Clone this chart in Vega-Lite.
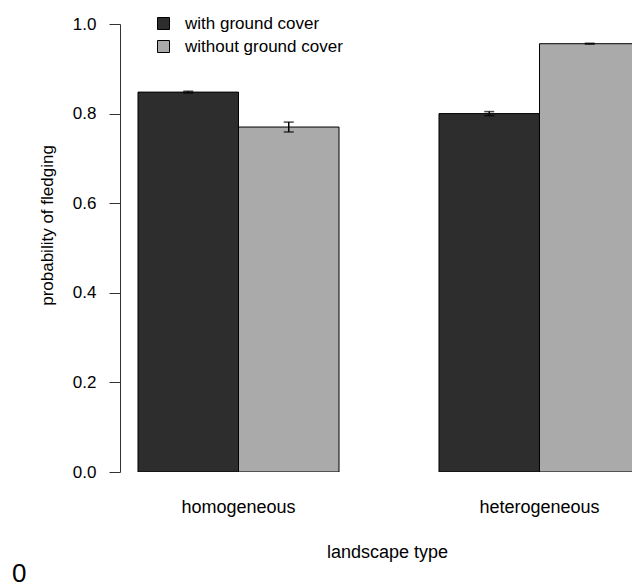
{
  "$schema": "https://vega.github.io/schema/vega-lite/v6.json",
  "autosize": {"type": "none"},
  "padding": {"left": 120, "top": 24, "right": 0, "bottom": 116},
  "width": 512,
  "height": 448,
  "background": "white",
  "title": {"text": "0", "orient": "bottom", "anchor": "start", "frame": "group", "fontSize": 26, "fontWeight": "normal", "font": "Liberation Sans", "color": "#000", "baseline": "alphabetic", "offset": 0, "dx": -108, "dy": 21},
  "data": {"values": [
    {"landscape": "homogeneous", "cover": "with ground cover", "p": 0.848, "lo": 0.846, "hi": 0.850},
    {"landscape": "homogeneous", "cover": "without ground cover", "p": 0.770, "lo": 0.759, "hi": 0.781},
    {"landscape": "heterogeneous", "cover": "with ground cover", "p": 0.800, "lo": 0.7955, "hi": 0.8045},
    {"landscape": "heterogeneous", "cover": "without ground cover", "p": 0.956, "lo": 0.955, "hi": 0.957}
  ]},
  "encoding": {
    "x": {"field": "landscape", "type": "nominal", "sort": ["homogeneous", "heterogeneous"],
      "scale": {"type": "band", "domain": ["homogeneous", "heterogeneous"], "paddingInner": 0.3322, "paddingOuter": 0.0598, "range": [0, 538]},
      "axis": {"title": "landscape type", "domain": false, "ticks": false, "labelAngle": 0, "labelPadding": 26, "labelFontSize": 18, "titleFontSize": 18, "titleFontWeight": "normal", "titleX": 267, "titleY": 85, "titleBaseline": "alphabetic", "labelFont": "Liberation Sans", "titleFont": "Liberation Sans", "labelColor": "#000", "titleColor": "#000"}},
    "xOffset": {"field": "cover", "type": "nominal", "scale": {"domain": ["with ground cover", "without ground cover"], "paddingInner": 0, "paddingOuter": 0}}
  },
  "layer": [
    {
      "mark": {"type": "bar", "stroke": "#000", "strokeWidth": 1, "clip": true},
      "encoding": {
        "y": {"field": "p", "type": "quantitative", "scale": {"domain": [0, 1]},
          "axis": {"title": "probability of fledging", "values": [0, 0.2, 0.4, 0.6, 0.8, 1.0], "format": ".1f", "grid": false, "tickSize": 11, "labelPadding": 13, "labelFontSize": 17, "titleFontSize": 17, "titleFontWeight": "normal", "titleX": -73, "titleY": 201, "titleBaseline": "middle", "titleAngle": -90, "labelFont": "Liberation Sans", "titleFont": "Liberation Sans", "domainColor": "#333", "tickColor": "#333", "labelColor": "#000", "titleColor": "#000"}},
        "fill": {"field": "cover", "type": "nominal", "scale": {"domain": ["with ground cover", "without ground cover"], "range": ["#2d2d2d", "#aaaaaa"]},
          "legend": {"title": null, "orient": "none", "legendX": 35, "legendY": -9, "symbolType": "square", "symbolSize": 144, "symbolStrokeColor": "#000", "symbolStrokeWidth": 1, "labelFontSize": 17, "labelFont": "Liberation Sans", "labelColor": "#000", "labelOffset": 13, "rowPadding": 5}}
      }
    },
    {
      "mark": {"type": "rule", "color": "#000", "strokeWidth": 1.5},
      "encoding": {"y": {"field": "lo", "type": "quantitative"}, "y2": {"field": "hi"}}
    },
    {
      "mark": {"type": "tick", "color": "#000", "size": 10, "thickness": 1.5},
      "encoding": {"y": {"field": "lo", "type": "quantitative"}}
    },
    {
      "mark": {"type": "tick", "color": "#000", "size": 10, "thickness": 1.5},
      "encoding": {"y": {"field": "hi", "type": "quantitative"}}
    }
  ],
  "config": {"view": {"stroke": null}, "font": "Liberation Sans"}
}
